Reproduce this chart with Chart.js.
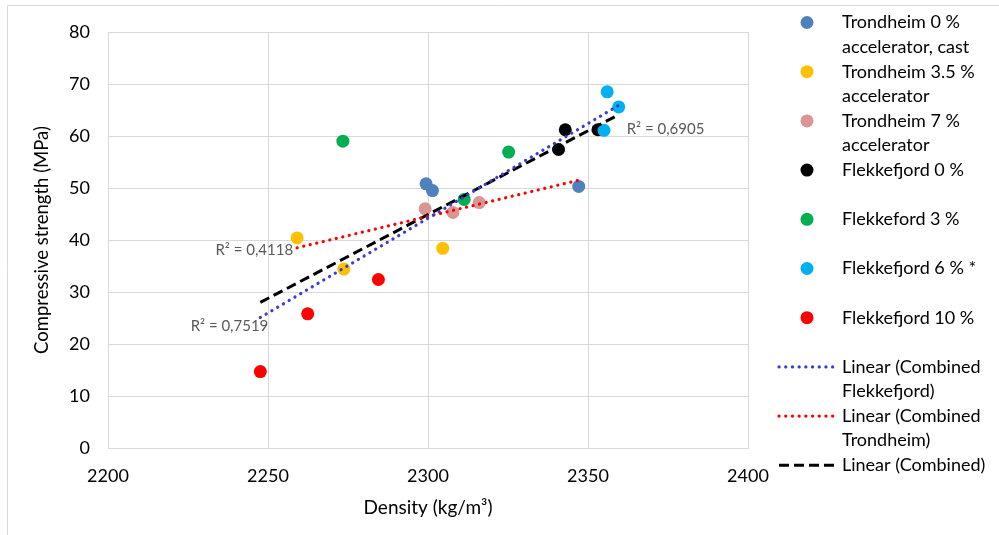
<!DOCTYPE html>
<html>
<head>
<meta charset="utf-8">
<title>Density vs compressive strength</title>
<script src="https://cdn.jsdelivr.net/npm/chart.js@4.4.0/dist/chart.umd.min.js"></script>
<style>
  html, body { margin: 0; padding: 0; background: #fff; }
  #wrap { width: 999px; height: 535px; }
</style>
</head>
<body>
<div id="wrap"><canvas id="densityChart" width="999" height="535"></canvas></div>
<script>
// Density (kg/m3) and compressive strength (MPa) per mix
const trondheim0Density = [2299.4, 2301.4, 2347.1];
const trondheim0Strength = [50.8, 49.5, 50.3];
const trondheim35Density = [2259.1, 2273.7, 2304.6];
const trondheim35Strength = [40.4, 34.4, 38.4];
const trondheim7Density = [2299.1, 2307.8, 2316.0];
const trondheim7Strength = [46.0, 45.3, 47.2];
const flekk0Density = [2340.8, 2342.9, 2353.1];
const flekk0Strength = [57.4, 61.2, 61.2];
const flekk3Density = [2273.4, 2311.3, 2325.2];
const flekk3Strength = [59.0, 47.8, 56.9];
const flekk6Density = [2355.0, 2356.0, 2359.6];
const flekk6Strength = [61.1, 68.5, 65.6];
const flekk10Density = [2247.6, 2262.4, 2284.5];
const flekk10Strength = [14.7, 25.8, 32.4];

// Linear trend lines (start / end)
const trendFlekkDensity = [2247.6, 2359.6];
const trendFlekkStrength = [25.1, 65.9];
const trendTrondDensity = [2259.1, 2347.1];
const trendTrondStrength = [38.5, 51.5];
const trendAllDensity = [2247.6, 2359.6];
const trendAllStrength = [28.0, 64.1];
const rSquared = ['0,7519', '0,4118', '0,6905'];

const xTicks = [2200, 2250, 2300, 2350, 2400];
const yTicks = [0, 10, 20, 30, 40, 50, 60, 70, 80];

const FONT = 'Lato';

function pts(xs, ys) {
    return xs.map((x, i) => ({ x: x, y: ys[i] }));
}

function scatterSet(label, lines, xs, ys, color, idx) {
    return {
        label: label,
        legendLines: lines,
        legendType: 'dot',
        data: pts(xs, ys),
        backgroundColor: color,
        borderColor: color,
        borderWidth: 0,
        pointRadius: 6.5,
        pointHoverRadius: 6.5,
        order: -idx
    };
}

function trendSet(label, lines, xs, ys, color, dash, width) {
    return {
        label: label,
        legendLines: lines,
        legendType: 'line',
        data: pts(xs, ys),
        showLine: true,
        borderColor: color,
        backgroundColor: color,
        borderWidth: width,
        borderDash: dash,
        borderCapStyle: dash[0] < 1 ? 'round' : 'butt',
        pointRadius: 0,
        pointHoverRadius: 0,
        order: -20
    };
}

const datasets = [
    scatterSet('Trondheim 0 % accelerator, cast', ['Trondheim 0 %', 'accelerator, cast'], trondheim0Density, trondheim0Strength, '#4f81bd', 0),
    scatterSet('Trondheim 3.5 % accelerator', ['Trondheim 3.5 %', 'accelerator'], trondheim35Density, trondheim35Strength, '#ffc000', 1),
    scatterSet('Trondheim 7 % accelerator', ['Trondheim 7 %', 'accelerator'], trondheim7Density, trondheim7Strength, '#d99694', 2),
    scatterSet('Flekkefjord 0 %', ['Flekkefjord 0 %'], flekk0Density, flekk0Strength, '#000000', 3),
    scatterSet('Flekkeford 3 %', ['Flekkeford 3 %'], flekk3Density, flekk3Strength, '#00b050', 4),
    scatterSet('Flekkefjord 6 % *', ['Flekkefjord 6 % *'], flekk6Density, flekk6Strength, '#00b0f0', 5),
    scatterSet('Flekkefjord 10 %', ['Flekkefjord 10 %'], flekk10Density, flekk10Strength, '#ff0000', 6),
    trendSet('Linear (Combined Flekkefjord)', ['Linear (Combined', 'Flekkefjord)'], trendFlekkDensity, trendFlekkStrength, '#3b3bd6', [0.1, 6.6], 3.2),
    trendSet('Linear (Combined Trondheim)', ['Linear (Combined', 'Trondheim)'], trendTrondDensity, trendTrondStrength, '#ff0000', [0.1, 6.6], 3.2),
    trendSet('Linear (Combined)', ['Linear (Combined)'], trendAllDensity, trendAllStrength, '#000000', [10, 5], 3)
];

// thin frame round the whole chart
const framePlugin = {
    id: 'frame',
    beforeDraw(chart) {
        const ctx = chart.ctx;
        ctx.save();
        ctx.fillStyle = '#fff';
        ctx.fillRect(0, 0, chart.width, chart.height);
        ctx.strokeStyle = '#d9d9d9';
        ctx.lineWidth = 1;
        ctx.beginPath();
        ctx.moveTo(7.5, chart.height);
        ctx.lineTo(7.5, 5.5);
        ctx.lineTo(chart.width, 5.5);
        ctx.stroke();
        ctx.restore();
    }
};

// R² labels next to the trend line ends
const rSquaredPlugin = {
    id: 'rSquared',
    afterDatasetsDraw(chart) {
        const ctx = chart.ctx;
        const xs = chart.scales.x, ys = chart.scales.y;
        const spots = [
            { text: 'R² = ' + rSquared[0], x: trendFlekkDensity[0], y: trendFlekkStrength[0], dx: 8, dy: 9, align: 'right' },
            { text: 'R² = ' + rSquared[1], x: trendTrondDensity[0], y: trendTrondStrength[0], dx: -4, dy: 2, align: 'right' },
            { text: 'R² = ' + rSquared[2], x: trendAllDensity[1], y: trendAllStrength[1], dx: 8, dy: 14, align: 'left' }
        ];
        ctx.save();
        ctx.font = '15px ' + FONT;
        ctx.fillStyle = '#595959';
        ctx.textBaseline = 'middle';
        spots.forEach(s => {
            ctx.textAlign = s.align;
            ctx.fillText(s.text, xs.getPixelForValue(s.x) + s.dx, ys.getPixelForValue(s.y) + s.dy);
        });
        ctx.restore();
    }
};

// Legend on the right, wrapped labels
const sideLegendPlugin = {
    id: 'sideLegend',
    afterDraw(chart) {
        const ctx = chart.ctx;
        const markX = 807, textX = 842, top = 22.5, step = 49.2, lineGap = 24.5;
        ctx.save();
        ctx.font = '18px ' + FONT;
        ctx.textBaseline = 'middle';
        ctx.textAlign = 'left';
        chart.data.datasets.forEach((ds, i) => {
            const y = top + i * step;
            if (ds.legendType === 'dot') {
                ctx.beginPath();
                ctx.arc(markX, y, 6.5, 0, 2 * Math.PI);
                ctx.fillStyle = ds.backgroundColor;
                ctx.fill();
            } else {
                ctx.beginPath();
                ctx.setLineDash(ds.borderDash);
                ctx.lineCap = ds.borderCapStyle;
                ctx.lineWidth = ds.borderWidth;
                ctx.strokeStyle = ds.borderColor;
                ctx.moveTo(779, y);
                ctx.lineTo(837, y);
                ctx.stroke();
                ctx.setLineDash([]);
            }
            ctx.fillStyle = '#000';
            ds.legendLines.forEach((line, j) => {
                ctx.fillText(line, textX, y + j * lineGap);
            });
        });
        ctx.restore();
    }
};

new Chart(document.getElementById('densityChart').getContext('2d'), {
    type: 'scatter',
    data: { datasets: datasets },
    options: {
        responsive: false,
        animation: false,
        devicePixelRatio: 1,
        layout: { padding: { left: 0, right: 251, top: 32, bottom: 0 } },
        plugins: {
            legend: { display: false },
            tooltip: { enabled: false }
        },
        scales: {
            x: {
                type: 'linear',
                min: xTicks[0],
                max: xTicks[xTicks.length - 1],
                afterBuildTicks: s => { s.ticks = xTicks.map(v => ({ value: v })); },
                afterFit: s => { s.height = 87; },
                grid: { color: '#d9d9d9', lineWidth: 1, drawTicks: false },
                border: { color: '#d9d9d9', width: 1 },
                ticks: {
                    color: '#000',
                    font: { family: FONT, size: 18 },
                    padding: 17,
                    maxRotation: 0,
                    callback: v => String(v)
                },
                title: {
                    display: true,
                    text: 'Density (kg/m³)',
                    color: '#000',
                    font: { family: FONT, size: 19 },
                    padding: { top: 0, bottom: 16 }
                }
            },
            y: {
                type: 'linear',
                min: yTicks[0],
                max: yTicks[yTicks.length - 1],
                afterBuildTicks: s => { s.ticks = yTicks.map(v => ({ value: v })); },
                afterFit: s => { s.width = 108; },
                grid: { color: '#d9d9d9', lineWidth: 1, drawTicks: false },
                border: { color: '#d9d9d9', width: 1 },
                ticks: { color: '#000', font: { family: FONT, size: 18 }, padding: 18, callback: v => String(v) },
                title: {
                    display: true,
                    text: 'Compressive strength (MPa)',
                    color: '#000',
                    font: { family: FONT, size: 18.5 },
                    padding: { top: 31, bottom: 0 }
                }
            }
        }
    },
    plugins: [framePlugin, rSquaredPlugin, sideLegendPlugin]
});
</script>
</body>
</html>
